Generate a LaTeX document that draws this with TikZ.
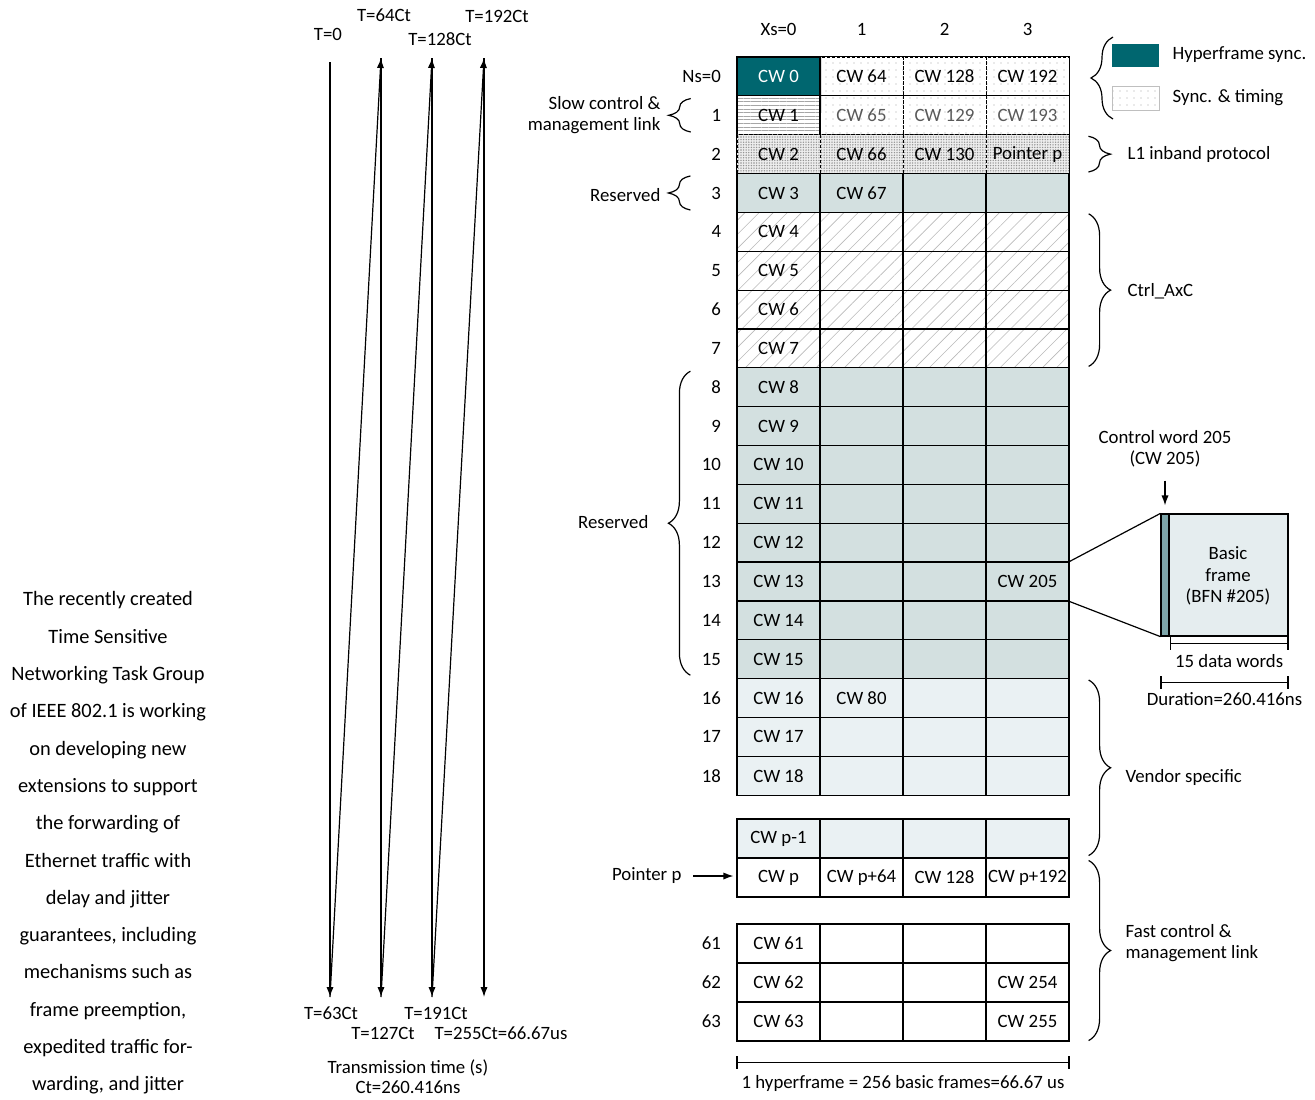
\documentclass[tikz,border=0pt]{standalone}
\usepackage{fontspec}
\setmainfont{Carlito}
\usetikzlibrary{arrows.meta,calc,positioning,decorations.pathreplacing,patterns.meta}
\definecolor{hfteal}{HTML}{00666F}
\definecolor{resfill}{HTML}{D3E0E0}
\definecolor{vendfill}{HTML}{EAF1F3}
\definecolor{bffill}{HTML}{E5EDEF}
\definecolor{bfstrip}{HTML}{7DA5A9}
\tikzset{
  cell/.style={draw, line width=0.6pt, minimum width=41.5pt, minimum height=19.43pt, inner sep=0pt},
  hsync/.style={fill=hfteal, text=white},
  sdots/.style={pattern={Dots[distance=3.5pt, radius=0.3pt]}, pattern color=gray!70},
  sync/.style={sdots, line width=0.45pt, dash pattern=on 1.5pt off 1pt},
  lone/.style={preaction={fill=gray!14}, pattern={Dots[distance=1.3pt, radius=0.38pt]}, pattern color=gray!85, line width=0.45pt, dash pattern=on 1.5pt off 1pt},
  hlines/.style={pattern={Lines[angle=0, distance=1.8pt, line width=0.3pt]}, pattern color=gray!70},
  hatch/.style={pattern={Lines[angle=45, distance=5pt, line width=0.3pt]}, pattern color=gray!55},
  resv/.style={fill=resfill},
  vend/.style={fill=vendfill},
  plain/.style={fill=white},
  rownum/.style={anchor=east, inner sep=0pt},
  side/.style={inner sep=0pt},
  brc/.style={decorate, decoration={brace, amplitude=11pt}, line width=0.6pt},
  dimbar/.style={|-|, line width=0.8pt}
}

\begin{document}
\begin{tikzpicture}[x=0.5pt,y=-0.5pt,>={Latex[length=5pt,width=3.6pt]},line width=0.6pt,font=\fontsize{9.4}{11}\selectfont]
\useasboundingbox (0,0) rectangle (1315,1099);
\newcommand*{\colx}{778.5}; \newcommand*{\colw}{83};
\newcommand*{\rtop}{57}; \newcommand*{\rowh}{38.85};

% transmission time
\coordinate (top0) at (330,62);
\foreach \i/\x in {1/381,2/432,3/484} \coordinate (top\i) at (\x,58);
\foreach \i/\x in {0/330,1/381,2/432,3/484} \coordinate (bot\i) at (\x,997);
\draw[->] (top0) -- (bot0);
\draw[->] (bot0) -- (top1);
\draw[->] (top1) -- (bot1);
\draw[->] (bot1) -- (top2);
\draw[->] (top2) -- (bot2);
\draw[->] (bot2) -- (top3);
\draw[->] (top3) -- (bot3);
\node (tl0) at (328,34) {T=0};
\node (tl64) at (384,15) {T=64Ct};
\node (tl128) at (440,39) {T=128Ct};
\node (tl192) at (497,16) {T=192Ct};
\node (tl63) at (331,1013) {T=63Ct};
\node (tl127) at (383,1033) {T=127Ct};
\node (tl191) at (436,1013) {T=191Ct};
\node (tl255) at (501,1033) {T=255Ct=66.67us};
\node[align=center, font=\fontsize{9.4}{10}\selectfont] (ttime) at (408,1077) {Transmission time (s)\\Ct=260.416ns};

% hyperframe grid
\foreach \i/\t in {0/Xs=0,1/1,2/2,3/3}
  \node (xs\i) at ({\colx+\colw*\i},29) {\t};
\foreach \r/\fa/\fb in {0/hsync/sync,1/hlines/sync,2/lone/lone,3/resv/resv,4/hatch/hatch,5/hatch/hatch,6/hatch/hatch,7/hatch/hatch,8/resv/resv,9/resv/resv,10/resv/resv,11/resv/resv,12/resv/resv,13/resv/resv,14/resv/resv,15/resv/resv,16/vend/vend,17/vend/vend,18/vend/vend}{
  \pgfmathsetmacro{\ry}{\rtop+\rowh*(\r+0.5)}
  \node[cell,\fa] (c\r-0) at (\colx,\ry) {CW \r};
  \foreach \c in {1,2,3}
    \node[cell,\fb] (c\r-\c) at ({\colx+\colw*\c},\ry) {};
  \node[rownum] (n\r) at ($(c\r-0.west)+(-15,0)$) {\ifnum\r=0 Ns=0\else\r\fi};
}
\draw (c0-0.north west) rectangle (c18-3.south east);
\draw (c0-0.north east) -- (c1-0.south east);
\foreach \r/\ry/\f/\t in {pm/838.5/vend/CW p-1,p/877.5/plain/CW p,61/943.5/plain/CW 61,62/982.5/plain/CW 62,63/1021.5/plain/CW 63}{
  \node[cell,\f] (c\r-0) at (\colx,\ry) {\t};
  \foreach \c in {1,2,3}
    \node[cell,\f] (c\r-\c) at ({\colx+\colw*\c},\ry) {};
}
\foreach \r in {61,62,63}
  \node[rownum] (n\r) at ($(c\r-0.west)+(-15,0)$) {\r};
\foreach \r/\c/\t in {0/1/CW 64,0/2/CW 128,0/3/CW 192,2/1/CW 66,2/2/CW 130,2/3/Pointer p,3/1/CW 67,13/3/CW 205,16/1/CW 80,p/1/CW p+64,p/2/CW 128,p/3/CW p+192,62/3/CW 254,63/3/CW 255}
  \node (t\r-\c) at (c\r-\c) {\t};
\foreach \c/\t in {1/CW 65,2/CW 129,3/CW 193}
  \node[text=black!65] (t1-\c) at (c1-\c) {\t};

% left braces
\draw[brc] ($(c1-0.south west)+(-46,-3)$) -- ($(c1-0.north west)+(-46,3)$);
\node[side, anchor=east, align=right, font=\fontsize{9.4}{10.6}\selectfont] (slow) at (661,115) {Slow control \&\\management link};
\draw[brc] ($(c3-0.south west)+(-46,-3)$) -- ($(c3-0.north west)+(-46,3)$);
\node[side, anchor=east] (res1) at (661,195) {Reserved};
\draw[brc] ($(c15-0.south west)+(-46,-4)$) -- ($(c8-0.north west)+(-46,4)$);
\node[side, anchor=east] (res2) at (649,522) {Reserved};

% right braces
\draw[brc] ($(c2-3.north east)+(19,2)$) -- ($(c2-3.south east)+(19,-2)$);
\node[side, anchor=west] (l1) at (1127,154) {L1 inband protocol};
\draw[brc] ($(c4-3.north east)+(19,2)$) -- ($(c7-3.south east)+(19,-2)$);
\node[side, anchor=west] (ctrl) at (1127,291) {Ctrl\_AxC};
\draw[brc] ($(c16-3.north east)+(19,2)$) -- ($(cpm-3.south east)+(19,-3)$);
\node[side, anchor=west] (vend) at (1125,777) {Vendor specific};
\draw[brc] ($(cp-3.north east)+(19,3)$) -- ($(c63-3.south east)+(19,-1)$);
\node[side, anchor=west, align=left, font=\fontsize{9.4}{10.6}\selectfont] (fast) at (1125,943) {Fast control \&\\management link};

% legend
\node[fill=hfteal, minimum width=23.5pt, minimum height=11.5pt, inner sep=0pt] (keyhf) at (1135.5,55.5) {};
\node[sdots, draw=gray!50, line width=0.4pt, minimum width=23.5pt, minimum height=12pt, inner sep=0pt] (keyst) at (1135.5,98.5) {};
\node[side, anchor=west] (lblhf) at (1172,55) {Hyperframe sync.};
\node[side, anchor=west] (lblst) at (1172,98) {Sync. \& timing};
\draw[brc] (1113,119) -- (1113,37);

% pointer
\node[side, anchor=east] (ptr) at (682,876) {Pointer p};
\draw[->, shorten <=5.5pt, shorten >=1.5pt] (ptr.east) -- (ptr.east -| cp-0.west);

% basic frame
\node[draw, fill=bffill, minimum width=63.5pt, minimum height=61pt, inner sep=0pt] (bf) at (1224.5,575) {};
\node[draw, fill=bfstrip, minimum width=4pt, minimum height=61pt, inner sep=0pt] (strip) at (1165,575) {};
\node[align=center, font=\fontsize{9.4}{10.6}\selectfont] (bflbl) at (1228,576) {Basic\\frame\\(BFN \#205)};
\draw (c13-3.north east) -- (bf.north west);
\draw (c13-3.south east) -- (bf.south west);
\node[align=center, font=\fontsize{9.4}{10.6}\selectfont] (cwlbl) at (1165,449) {Control word 205\\(CW 205)};
\draw[->, shorten <=3pt, shorten >=4pt] (cwlbl.south) -- (cwlbl.south |- strip.north);
\draw[dimbar] ($(strip.south east)+(0,7)$) coordinate (dw1) -- ($(bf.south east)+(0,7)$) coordinate (dw2);
\node (dwlbl) at ($(dw1)!0.5!(dw2)+(0,17)$) {15 data words};
\draw[dimbar] ($(strip.south west)+(0,46)$) coordinate (du1) -- ($(bf.south east)+(0,46)$) coordinate (du2);
\node (dulbl) at ($(du1)!0.5!(du2)+(0,16)$) {Duration=260.416ns};

% hyperframe length
\draw[dimbar] ($(c63-0.south west)+(0,21)$) coordinate (hf1) -- ($(c63-3.south east)+(0,21)$) coordinate (hf2);
\node (hflbl) at ($(hf1)!0.5!(hf2)+(0,21)$) {1 hyperframe = 256 basic frames=66.67 us};

% side text
\node[align=center, font=\fontsize{10.2}{18.65}\selectfont] (tsn) at (108,843) {The recently created\\Time Sensitive\\Networking Task Group\\of IEEE 802.1 is working\\on developing new\\extensions to support\\the forwarding of\\Ethernet traffic with\\delay and jitter\\guarantees, including\\mechanisms such as\\frame preemption,\\expedited traffic for-\\warding, and jitter};
\end{tikzpicture}
\end{document}
